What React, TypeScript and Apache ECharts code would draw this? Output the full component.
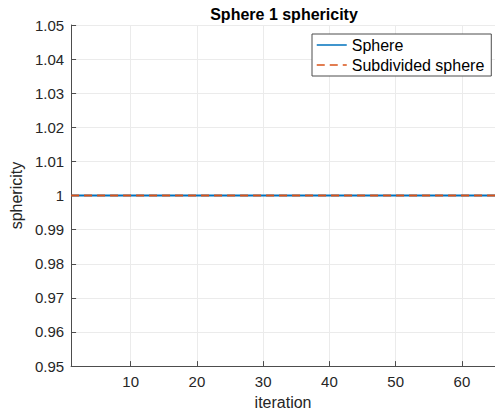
import React, { useEffect, useRef } from "react";
import * as echarts from "echarts";

const iterations = [
  1, 2, 3, 4, 5, 6, 7, 8, 9, 10, 11, 12, 13, 14, 15, 16, 17, 18, 19, 20,
  21, 22, 23, 24, 25, 26, 27, 28, 29, 30, 31, 32, 33, 34, 35, 36, 37, 38, 39, 40,
  41, 42, 43, 44, 45, 46, 47, 48, 49, 50, 51, 52, 53, 54, 55, 56, 57, 58, 59, 60,
  61, 62, 63, 64, 65,
];
const sphere = [
  1, 1, 1, 1, 1, 1, 1, 1, 1, 1, 1, 1, 1, 1, 1, 1, 1, 1, 1, 1,
  1, 1, 1, 1, 1, 1, 1, 1, 1, 1, 1, 1, 1, 1, 1, 1, 1, 1, 1, 1,
  1, 1, 1, 1, 1, 1, 1, 1, 1, 1, 1, 1, 1, 1, 1, 1, 1, 1, 1, 1,
  1, 1, 1, 1, 1,
];
const subdividedSphere = [
  1, 1, 1, 1, 1, 1, 1, 1, 1, 1, 1, 1, 1, 1, 1, 1, 1, 1, 1, 1,
  1, 1, 1, 1, 1, 1, 1, 1, 1, 1, 1, 1, 1, 1, 1, 1, 1, 1, 1, 1,
  1, 1, 1, 1, 1, 1, 1, 1, 1, 1, 1, 1, 1, 1, 1, 1, 1, 1, 1, 1,
  1, 1, 1, 1, 1,
];
const xTicks = [10, 20, 30, 40, 50, 60];
const seriesNames = ["Sphere", "Subdivided sphere"];

const FONT = "'Liberation Sans', Arial, Helvetica, sans-serif";
const TXT = "#262626";

export default function App() {
  const ref = useRef<HTMLDivElement>(null);
  useEffect(() => {
    if (!ref.current) return;
    const chart = echarts.init(ref.current, null, { renderer: "svg" });
    chart.setOption({
      animation: false,
      backgroundColor: "#ffffff",
      textStyle: { fontFamily: FONT },
      title: {
        text: "Sphere 1 sphericity",
        left: 279,
        textAlign: "center",
        top: 1,
        textStyle: { fontFamily: FONT, fontSize: 16, fontWeight: "bold", color: "#000" },
      },
      legend: {
        orient: "vertical",
        left: 312,
        top: 34,
        padding: [2, 7, 2, 4],
        itemGap: 2,
        itemWidth: 30,
        itemHeight: 14,
        itemTextGap: 4,
        borderColor: "#4d4d4d",
        borderWidth: 1,
        borderRadius: 0,
        backgroundColor: "#ffffff",
        itemStyle: { color: "transparent", borderWidth: 0, opacity: 0 },
        lineStyle: { width: 1.5 },
        textStyle: { fontFamily: FONT, fontSize: 16, lineHeight: 18, color: "#000" },
        data: seriesNames,
      },
      grid: { left: 62, right: -2, top: 25, bottom: 45.5, containLabel: false },
      xAxis: {
        type: "value",
        min: 1,
        max: 65,
        name: "iteration",
        nameLocation: "middle",
        nameGap: 27,
        nameTextStyle: { fontFamily: FONT, fontSize: 16, color: TXT },
        axisLine: { show: true, lineStyle: { color: "#4d4d4d", width: 1 } },
        axisTick: { show: true, inside: true, length: 5, customValues: xTicks, lineStyle: { color: "#4d4d4d" } },
        axisLabel: { customValues: xTicks, fontFamily: FONT, fontSize: 15, color: TXT, margin: 8 },
        splitLine: { show: true, lineStyle: { color: "#ebebeb", width: 1 } },
      },
      yAxis: {
        type: "value",
        min: 0.95,
        max: 1.05,
        interval: 0.01,
        name: "sphericity",
        nameLocation: "middle",
        nameGap: 40,
        nameTextStyle: { fontFamily: FONT, fontSize: 16, color: TXT },
        axisLine: { show: true, lineStyle: { color: "#4d4d4d", width: 1 } },
        axisTick: { show: true, inside: true, length: 5, lineStyle: { color: "#4d4d4d" } },
        axisLabel: {
          fontFamily: FONT,
          fontSize: 15,
          color: TXT,
          margin: 7,
          formatter: (v: number) => String(parseFloat(v.toFixed(2))),
        },
        splitLine: { show: true, lineStyle: { color: "#ebebeb", width: 1 } },
      },
      series: [
        {
          name: seriesNames[0],
          type: "line",
          data: iterations.map((x, i) => [x, sphere[i]]),
          symbol: "none",
          lineStyle: { color: "#0072BD", width: 2 },
          itemStyle: { color: "#0072BD" },
        },
        {
          name: seriesNames[1],
          type: "line",
          data: iterations.map((x, i) => [x, subdividedSphere[i]]),
          symbol: "none",
          lineStyle: { color: "#D95319", width: 2, type: [8, 5] },
          itemStyle: { color: "#D95319" },
        },
      ],
    });
    return () => chart.dispose();
  }, []);
  return <div ref={ref} style={{ width: 495, height: 415, position: "absolute", left: 0, top: 0 }} />;
}
